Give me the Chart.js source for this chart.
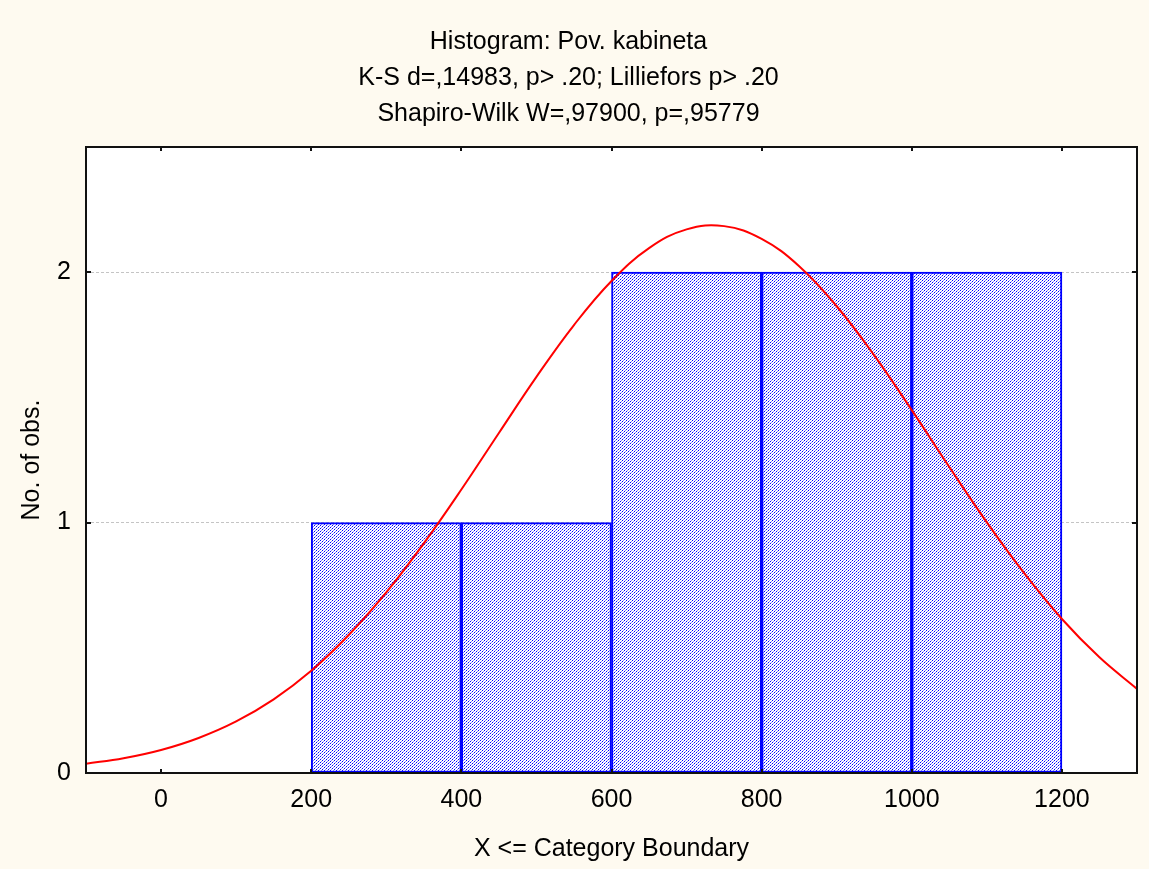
<!DOCTYPE html>
<html>
<head>
<meta charset="utf-8">
<script src="https://cdn.jsdelivr.net/npm/chart.js@4/dist/chart.umd.min.js"></script>
<style>
  html, body { margin: 0; padding: 0; background: #fefaf0; }
  #wrap { width: 1149px; height: 869px; }
</style>
</head>
<body>
<div id="wrap"><canvas id="chart" width="1149" height="869"></canvas></div>
<script>
// histogram bins (X <= category boundary)
const binLower = [200, 400, 600, 800, 1000];
const binUpper = [400, 600, 800, 1000, 1200];
const counts = [1, 1, 2, 2, 2];

// fitted normal curve
const curveX = [-100, -50, 0, 50, 100, 150, 200, 250, 300, 350, 400, 450, 500, 550, 600, 650,
                700, 750, 800, 850, 900, 950, 1000, 1050, 1100, 1150, 1200, 1250, 1300];
const curveY = [0.037, 0.059, 0.092, 0.14, 0.206, 0.294, 0.408, 0.551, 0.721, 0.917, 1.132, 1.358,
                1.582, 1.789, 1.965, 2.096, 2.171, 2.184, 2.133, 2.024, 1.864, 1.668, 1.449, 1.222,
                1.001, 0.797, 0.615, 0.462, 0.336];

// tick labels
const xTicks = [0, 200, 400, 600, 800, 1000, 1200];
const yTicks = [0, 1, 2];

const titleLines = ['Histogram: Pov. kabineta', 'K-S d=,14983, p> .20; Lilliefors p> .20', 'Shapiro-Wilk W=,97900, p=,95779'];

const FONT = 'Liberation Sans, Arial, sans-serif';

// dense blue diagonal hatch, dots alternating dark / light along each line
function hatch() {
    const c = document.createElement('canvas');
    c.width = 6; c.height = 6;
    const g = c.getContext('2d');
    g.fillStyle = '#ffffff';
    g.fillRect(0, 0, 6, 6);
    for (let x = 0; x < 6; x++) {
        for (let y = 0; y < 6; y++) {
            if ((x + y) % 3 === 2) {
                g.fillStyle = x % 2 === 0 ? '#0000ff' : '#8c8cff';
                g.fillRect(x, y, 1, 1);
            }
        }
    }
    return g.createPattern(c, 'repeat');
}

const frame = {
    id: 'frame',
    beforeDraw(chart) {
        const { ctx, chartArea: a } = chart;
        ctx.save();
        ctx.fillStyle = '#fefaf0';
        ctx.fillRect(0, 0, chart.width, chart.height);
        ctx.fillStyle = '#ffffff';
        ctx.fillRect(a.left, a.top, a.right - a.left, a.bottom - a.top);
        ctx.restore();
    },
    afterDraw(chart) {
        const { ctx, chartArea: a, scales } = chart;
        ctx.save();
        ctx.strokeStyle = '#111111';
        ctx.lineWidth = 2;
        ctx.strokeRect(a.left, a.top, a.right - a.left, a.bottom - a.top);
        ctx.beginPath();
        xTicks.forEach(v => {
            const px = Math.round(scales.x.getPixelForValue(v));
            ctx.moveTo(px, a.bottom); ctx.lineTo(px, a.bottom - 4);
            ctx.moveTo(px, a.top); ctx.lineTo(px, a.top + 4);
        });
        yTicks.forEach(v => {
            const py = Math.round(scales.y.getPixelForValue(v));
            ctx.moveTo(a.left, py); ctx.lineTo(a.left + 5, py);
            ctx.moveTo(a.right, py); ctx.lineTo(a.right - 5, py);
        });
        ctx.stroke();
        ctx.restore();
    }
};

new Chart(document.getElementById('chart'), {
    type: 'bar',
    data: {
        datasets: [
            {
                type: 'line',
                data: curveX.map((x, i) => ({ x: x, y: curveY[i] })),
                borderColor: '#ff0000',
                borderWidth: 2,
                pointRadius: 0,
                tension: 0.4,
                fill: false,
                order: 0
            },
            {
                type: 'bar',
                data: counts.map((c, i) => ({ x: (binLower[i] + binUpper[i]) / 2, y: c })),
                backgroundColor: hatch(),
                borderColor: '#0000ff',
                borderWidth: 2,
                borderSkipped: false,
                barPercentage: 1,
                categoryPercentage: 1,
                order: 1
            }
        ]
    },
    options: {
        responsive: false,
        animation: false,
        layout: { padding: { left: 0, right: 12, top: 0, bottom: 0 } },
        plugins: {
            legend: { display: false },
            tooltip: { enabled: false },
            title: {
                display: true,
                text: titleLines,
                color: '#000000',
                font: { family: FONT, size: 25, weight: 'normal', lineHeight: 36 / 25 },
                padding: { top: 24, bottom: 15 }
            }
        },
        scales: {
            x: {
                type: 'linear',
                min: -100,
                max: 1300,
                offset: false,
                afterBuildTicks: s => { s.ticks = xTicks.map(v => ({ value: v })); },
                afterFit: s => { s.height = 96; },
                grid: { display: false, offset: false, drawTicks: false },
                border: { display: false },
                ticks: {
                    color: '#000000', padding: 12, maxRotation: 0,
                    font: { family: FONT, size: 25 },
                    callback: v => String(v)
                },
                title: {
                    display: true,
                    text: 'X <= Category Boundary',
                    color: '#000000',
                    font: { family: FONT, size: 25 },
                    padding: { top: 0, bottom: 5 }
                }
            },
            y: {
                min: 0,
                max: 2.5,
                afterBuildTicks: s => { s.ticks = yTicks.map(v => ({ value: v })); },
                afterFit: s => { s.width = 86; },
                grid: {
                    drawTicks: false,
                    color: ctx => (ctx.tick && ctx.tick.value > 0 ? '#c4c4c4' : 'rgba(0,0,0,0)'),
                    lineWidth: 1
                },
                border: { display: false, dash: [3, 2] },
                ticks: { color: '#000000', padding: 15, font: { family: FONT, size: 25 } },
                title: {
                    display: true,
                    text: 'No. of obs.',
                    color: '#000000',
                    font: { family: FONT, size: 25 },
                    padding: { top: 17, bottom: 0 }
                }
            }
        }
    },
    plugins: [frame]
});
</script>
</body>
</html>
